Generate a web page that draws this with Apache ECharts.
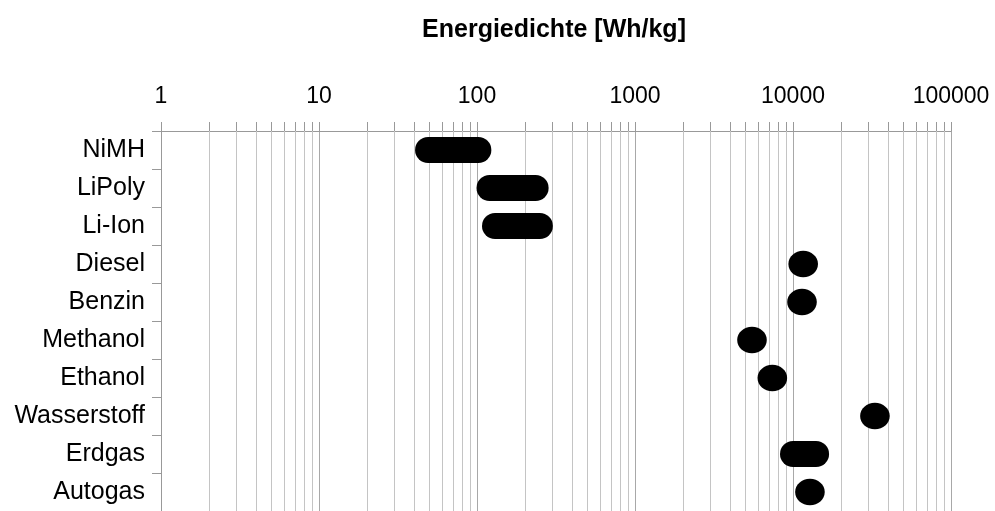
<!DOCTYPE html>
<html>
<head>
<meta charset="utf-8">
<script src="https://cdn.jsdelivr.net/npm/echarts@6/dist/echarts.min.js"></script>
<style>
  html, body { margin: 0; padding: 0; background: #fff; }
  #chart { width: 995px; height: 511px; }
</style>
</head>
<body>
<div id="chart"></div>
<script>
// Energy density ranges per storage medium, in Wh/kg
const categories = ['NiMH', 'LiPoly', 'Li-Ion', 'Diesel', 'Benzin', 'Methanol', 'Ethanol', 'Wasserstoff', 'Erdgas', 'Autogas'];
const lowValues  = [49, 120, 130, 11600, 11400, 5500, 7400, 33000, 10000, 12800];
const highValues = [102, 235, 250, 11600, 11400, 5500, 7400, 33000, 14000, 12800];
const tickLabels = ['1', '10', '100', '1000', '10000', '100000'];

// minor grid positions (2..9 within each decade)
const minorValues = [];
for (let d = 0; d < tickLabels.length - 1; d++) {
  const base = Number(tickLabels[d]);
  for (let m = 2; m <= 9; m++) minorValues.push(base * m);
}

const FONT = '"Liberation Sans", Arial, sans-serif';
const chart = echarts.init(document.getElementById('chart'), null, { renderer: 'canvas' });

chart.setOption({
  animation: false,
  backgroundColor: '#fff',
  graphic: [{
    type: 'text',
    x: 554, y: 30,
    style: {
      text: 'Energiedichte [Wh/kg]',
      font: 'bold 25px ' + FONT,
      fill: '#000',
      align: 'center',
      verticalAlign: 'middle'
    }
  }],
  grid: { left: 161, top: 131, width: 790, height: 384, containLabel: false },
  xAxis: {
    type: 'log',
    logBase: 10,
    min: 1,
    max: 100000,
    position: 'top',
    axisLine: { show: true, lineStyle: { color: '#999', width: 1 } },
    axisTick: { show: true, length: 9, lineStyle: { color: '#999' } },
    splitLine: { show: true, lineStyle: { color: '#a8a8a8', width: 1 } },
    axisLabel: {
      color: '#000',
      fontSize: 23,
      fontFamily: FONT,
      margin: 23,
      formatter: v => tickLabels[Math.round(Math.log10(v))]
    }
  },
  yAxis: {
    type: 'category',
    data: categories,
    inverse: true,
    axisLine: { show: true, lineStyle: { color: '#999', width: 1 } },
    axisTick: { show: true, length: 9, lineStyle: { color: '#999' } },
    splitLine: { show: false },
    axisLabel: { color: '#000', fontSize: 25, fontFamily: FONT, margin: 16, padding: [3, 0, 0, 0] }
  },
  series: [
    {
      // minor vertical grid lines with small ticks above the axis
      type: 'custom',
      clip: false,
      silent: true,
      z: 1,
      data: minorValues.map(v => [v, categories[0]]),
      renderItem: (params, api) => {
        const cs = params.coordSys;
        const x = Math.round(api.coord([api.value(0), 0])[0]) + 0.5;
        return {
          type: 'group',
          children: [
            { type: 'line', shape: { x1: x, y1: cs.y, x2: x, y2: cs.y + cs.height }, style: { stroke: '#c4c4c4', lineWidth: 1 } },
            { type: 'line', shape: { x1: x, y1: cs.y - 9, x2: x, y2: cs.y }, style: { stroke: '#999', lineWidth: 1 } }
          ]
        };
      }
    },
    {
      // range capsules (or single-value ellipses)
      type: 'custom',
      z: 5,
      encode: { x: [0, 1], y: 2 },
      data: categories.map((c, i) => [lowValues[i], highValues[i], i]),
      renderItem: (params, api) => {
        const p0 = api.coord([api.value(0), api.value(2)]);
        const p1 = api.coord([api.value(1), api.value(2)]);
        const r = 13;
        if (api.value(0) === api.value(1)) {
          return { type: 'ellipse', shape: { cx: p0[0], cy: p0[1], rx: 14.8, ry: 13.3 }, style: { fill: '#000' } };
        }
        return {
          type: 'rect',
          shape: { x: p0[0] - r, y: p0[1] - r, width: p1[0] - p0[0] + 2 * r, height: 2 * r, r: r },
          style: { fill: '#000' }
        };
      }
    }
  ]
});
</script>
</body>
</html>
